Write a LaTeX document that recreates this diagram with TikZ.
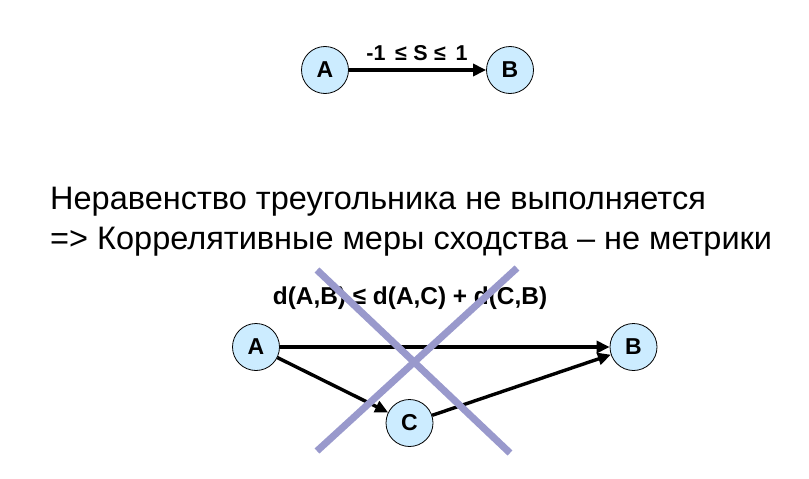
\documentclass[tikz,border=0pt]{standalone}
\usepackage{fontspec}
\setmainfont{Liberation Sans}
\usetikzlibrary{arrows.meta}
\definecolor{nodefill}{RGB}{204,236,255}
\definecolor{crosscol}{RGB}{153,153,204}
\begin{document}
\begin{tikzpicture}[x=1pt,y=-1pt,
  vert/.style={circle,draw=black,line width=0.8pt,fill=nodefill,minimum size=47pt,inner sep=0pt,font=\bfseries\fontsize{23}{23}\selectfont},
  edge/.style={line width=3.4pt,-{Triangle[length=13pt,width=12pt]}},
  crossline/.style={crosscol,line width=7pt},
  lbl/.style={font=\bfseries\fontsize{21.5}{21.5}\selectfont,inner sep=0pt},
  heading/.style={font=\fontsize{32.5}{40}\selectfont,inner sep=0pt,anchor=base west}]
\useasboundingbox (0,0) rectangle (809,479);
% top
\node[vert] (a1) at (325,70) {A};
\node[vert] (b1) at (510,70) {B};
\draw[edge] (a1) -- (b1);
\node[lbl,anchor=base] (s) at (417,60.5) {-1\hspace{9.5pt}≤\hspace{6.5pt}S\hspace{6.5pt}≤\hspace{9.5pt}1};
% heading
\node[heading] (t1) at (50,209) {Неравенство треугольника не выполняется};
\node[heading] (t2) at (50,249) {=> Коррелятивные меры сходства – не метрики};
% bottom
\node[lbl,font=\bfseries\fontsize{24.4}{24.4}\selectfont] (ineq) at (410,298) {d(A,B) ≤ d(A,C) + d(C,B)};
\node[vert] (a2) at (256,347) {A};
\node[vert] (b2) at (633.5,347) {B};
\node[vert] (c2) at (409.5,423) {C};
\draw[edge,line width=4pt] (a2) -- (b2);
\draw[edge] (a2) -- (c2);
\draw[edge] (c2) -- (b2);
\coordinate (x1s) at (317,270);
\coordinate (x1e) at (510,453);
\coordinate (x2s) at (517,268);
\coordinate (x2e) at (317,451);
\draw[crossline] (x1s) -- (x1e);
\draw[crossline] (x2s) -- (x2e);
\end{tikzpicture}
\end{document}
